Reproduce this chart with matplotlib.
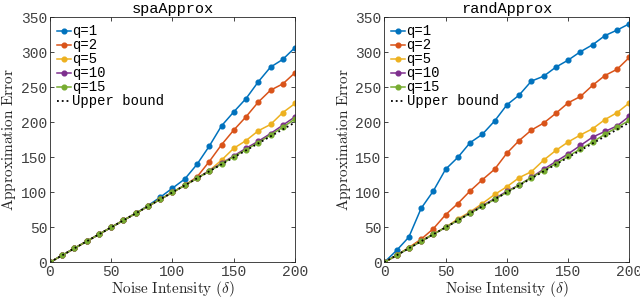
import matplotlib
matplotlib.use('Agg')

import matplotlib.pyplot as plt
import numpy as np

plt.rcParams['mathtext.fontset'] = 'cm'
plt.rcParams['font.family'] = 'Liberation Mono'

noise = list(range(0, 201, 10))
bound = noise

# spaApprox
spa_q1 = [0, 10, 20, 30, 40, 50, 60, 70, 81, 93, 106, 119, 140, 166, 195, 215, 234, 258, 279, 290, 307]
spa_q2 = [0, 10, 20, 30, 40, 50, 60, 70, 80, 90, 100, 110, 122, 144, 168, 189, 208, 229, 246, 255, 271]
spa_q5 = [0, 10, 20, 30, 40, 50, 60, 70, 80, 90, 100, 110, 120, 131, 146, 163, 174, 188, 197, 214, 227]
spa_q10 = [0, 10, 20, 30, 40, 50, 60, 70, 80, 90, 100, 110, 120, 131, 141.5, 152, 163, 173, 184, 196, 208]
spa_q15 = [0, 10, 20, 30, 40, 50, 60, 70, 80, 90, 100, 110, 120, 130, 140.5, 151, 161, 171, 182, 193, 205]

# randApprox
rand_q1 = [0, 17, 36, 77, 102, 133, 150, 171, 183, 202, 225, 239, 259, 266, 279, 289, 301, 311, 324, 332, 341]
rand_q2 = [0, 10, 21, 33, 48, 68, 84, 102, 118, 133, 156, 174, 189, 199, 213, 228, 237, 253, 267, 276, 293]
rand_q5 = [0, 10, 21, 31, 40.5, 50, 62, 72, 84, 97, 108, 121, 129.5, 146, 160, 172, 182, 191, 204, 214, 228]
rand_q10 = [0, 10, 20, 30, 40, 50, 60, 71, 81, 91, 101.5, 110.5, 121.5, 133, 144, 155, 167, 179, 187, 195, 209]
rand_q15 = [0, 10, 20, 30, 40, 50, 60, 70, 80, 90, 100, 110.5, 121, 131, 141, 151.5, 162, 172, 183, 193, 203]

labels = ['q=1', 'q=2', 'q=5', 'q=10', 'q=15']
colors = ['#0072BD', '#D95319', '#EDB120', '#7E2F8E', '#77AC30']
axis_gray = '#262626'

fig = plt.figure(figsize=(6.4, 2.99), dpi=100)
ax1 = fig.add_axes([0.078, 0.1227, 0.383, 0.819])
ax2 = fig.add_axes([0.6005, 0.1227, 0.383, 0.819])

panels = [
    (ax1, 'spaApprox', [spa_q1, spa_q2, spa_q5, spa_q10, spa_q15]),
    (ax2, 'randApprox', [rand_q1, rand_q2, rand_q5, rand_q10, rand_q15]),
]

for ax, title, series in panels:
    for vals, lab, c in zip(series, labels, colors):
        ax.plot(noise, vals, '-', marker='o', markersize=3.4, color=c, lw=1.1, label=lab)
    ax.plot(noise, bound, ':', color='black', lw=1.3, label='Upper bound')
    ax.set_xlim(0, 200)
    ax.set_ylim(0, 350)
    ax.set_xticks([0, 50, 100, 150, 200])
    ax.set_yticks([0, 50, 100, 150, 200, 250, 300, 350])
    ax.tick_params(direction='in', length=3, width=0.6, colors=axis_gray,
                   labelsize=10.5, top=True, right=True, pad=2)
    for tl in ax.get_xticklabels() + ax.get_yticklabels():
        tl.set_color('#404040')
    for s in ax.spines.values():
        s.set_color(axis_gray)
        s.set_linewidth(0.6)
    ax.set_title(title, fontsize=11, color='black', pad=3)
    ax.set_xlabel(r'$\mathrm{Noise\ Intensity\ }(\delta)$', fontsize=11, labelpad=0, color=axis_gray)
    ax.set_ylabel(r'$\mathrm{Approximation\ Error}$', fontsize=11, labelpad=2, color=axis_gray)
    ax.legend(loc='upper left', frameon=False, fontsize=10, handlelength=1.0,
              handletextpad=0.1, labelspacing=0.0, borderaxespad=0.3,
              borderpad=0.2)

fig.savefig('out.png', dpi=100)
